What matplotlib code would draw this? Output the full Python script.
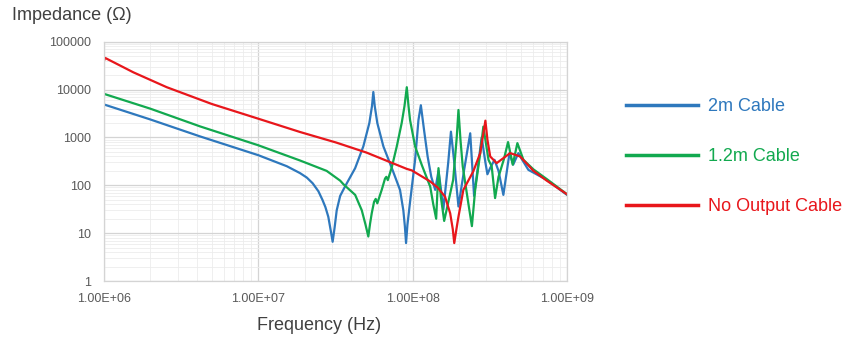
import matplotlib
matplotlib.use("Agg")
import matplotlib.pyplot as plt
from matplotlib.ticker import LogLocator, FixedLocator, NullFormatter

# valores (Hz, ohm)
blue_f = [1.0e6, 1.99e6, 4.19e6, 1.0e7, 1.53e7, 1.86e7, 2.06e7, 2.25e7, 2.45e7, 2.6e7,
          2.72e7, 2.84e7, 2.95e7, 3.03e7, 3.12e7, 3.22e7, 3.39e7, 3.65e7, 4.24e7, 4.79e7,
          5.24e7, 5.45e7, 5.56e7, 5.68e7, 5.9e7, 6.46e7, 7.33e7, 8.28e7, 8.7e7, 8.9e7,
          9.06e7, 9.25e7, 9.62e7, 1.037e8, 1.09e8, 1.13e8, 1.186e8, 1.25e8, 1.32e8, 1.4e8,
          1.47e8, 1.52e8, 1.58e8, 1.7e8, 1.77e8, 1.86e8, 1.98e8, 2.15e8, 2.36e8, 2.5e8,
          2.65e8, 2.8e8, 2.96e8, 3.05e8, 3.18e8, 3.39e8, 3.6e8, 3.87e8, 4.24e8, 4.48e8,
          4.84e8, 5.1e8, 5.62e8, 7.39e8, 1.0e9]
blue_z = [4880, 2380, 1050, 425, 250, 180, 145, 110, 75, 50,
          35, 22, 11, 6.6, 13, 30, 60, 95, 228, 650,
          2000, 4500, 8900, 4500, 2000, 650, 228, 80, 30, 14,
          6.2, 15, 45, 340, 2300, 4700, 1400, 400, 150, 80,
          200, 90, 31, 300, 1320, 300, 36, 200, 1220, 60,
          250, 1000, 300, 170, 230, 340, 200, 63, 470, 270,
          470, 350, 210, 130, 63]

green_f = [1.0e6, 1.99e6, 4.19e6, 1.0e7, 1.86e7, 2.77e7, 3.39e7, 3.56e7, 4.24e7, 4.68e7,
           4.95e7, 5.16e7, 5.3e7, 5.43e7, 5.62e7, 5.76e7, 5.9e7, 6.3e7, 6.62e7, 6.75e7,
           6.9e7, 7.33e7, 7.89e7, 8.49e7, 8.85e7, 9.16e7, 9.4e7, 9.62e7, 1.037e8, 1.146e8,
           1.3e8, 1.36e8, 1.42e8, 1.47e8, 1.52e8, 1.6e8, 1.83e8, 1.93e8, 1.98e8, 2.04e8,
           2.11e8, 2.3e8, 2.42e8, 2.54e8, 2.74e8, 2.87e8, 3.1e8, 3.25e8, 3.42e8, 3.6e8,
           3.9e8, 4.15e8, 4.45e8, 4.77e8, 5.22e8, 6.06e8, 7.39e8, 1.0e9]
green_z = [8130, 4000, 1700, 685, 330, 200, 125, 105, 63, 30,
           15, 8.5, 16, 26, 45, 52, 42, 80, 138, 150,
           128, 240, 650, 2000, 4500, 11200, 4500, 2300, 650, 265,
           93, 40, 20, 228, 60, 18, 130, 1000, 3750, 900,
           250, 40, 14, 80, 470, 1680, 340, 250, 54, 150,
           350, 800, 270, 760, 340, 215, 135, 65]

red_f = [1.0e6, 1.015e6, 1.55e6, 2.55e6, 4.99e6, 1.0e7, 1.86e7, 3.2e7, 5.04e7, 6.79e7,
         9.16e7, 9.86e7, 1.3e8, 1.45e8, 1.62e8, 1.75e8, 1.82e8, 1.86e8, 1.92e8, 1.98e8,
         2.13e8, 2.47e8, 2.74e8, 2.87e8, 2.96e8, 3.05e8, 3.18e8, 3.5e8, 4.28e8, 4.97e8,
         6.06e8, 7.39e8, 1.0e9]
red_z = [40000, 46000, 22900, 11200, 5000, 2460, 1300, 780, 480, 325,
         220, 205, 120, 90, 58, 26, 12, 6.2, 12, 22,
         80, 195, 470, 1200, 2240, 900, 400, 290, 470, 400,
         200, 125, 65]

labels = ['2m Cable', '1.2m Cable', 'No Output Cable']
colors = ['#2e78bd', '#12a94f', '#e8161b']

x_ticks = [1e6, 1e7, 1e8, 1e9]
x_ticklabels = ['1.00E+06', '1.00E+07', '1.00E+08', '1.00E+09']
y_ticks = [1, 10, 100, 1000, 10000, 100000]
y_ticklabels = ['1', '10', '100', '1000', '10000', '100000']

plt.rcParams['font.family'] = ['Liberation Sans', 'DejaVu Sans']

fig = plt.figure(figsize=(8.59, 3.43), dpi=100)
ax = fig.add_axes([104/859, 1-281/343, 463/859, (281-41.7)/343])

ax.plot(blue_f, blue_z, color=colors[0], linewidth=1.6, label=labels[0])
ax.plot(green_f, green_z, color=colors[1], linewidth=1.6, label=labels[1])
ax.plot(red_f, red_z, color=colors[2], linewidth=1.6, label=labels[2])

ax.set_xscale('log')
ax.set_yscale('log')
ax.set_xlim(1e6, 1e9)
ax.set_ylim(1, 100000)

ax.xaxis.set_major_locator(FixedLocator(x_ticks))
ax.set_xticklabels(x_ticklabels)
ax.yaxis.set_major_locator(FixedLocator(y_ticks))
ax.set_yticklabels(y_ticklabels)
ax.xaxis.set_minor_locator(LogLocator(base=10, subs=range(2, 10)))
ax.yaxis.set_minor_locator(LogLocator(base=10, subs=range(2, 10)))
ax.xaxis.set_minor_formatter(NullFormatter())
ax.yaxis.set_minor_formatter(NullFormatter())

ax.tick_params(which='both', length=0)
ax.tick_params(axis='both', labelsize=9, labelcolor='#595959')
ax.tick_params(axis='x', pad=9)
ax.tick_params(axis='y', pad=9.5)

ax.grid(True, which='major', color='#d4d4d4', linewidth=0.9)
ax.grid(True, which='minor', color='#ececec', linewidth=0.6)
ax.set_axisbelow(True)
for s in ax.spines.values():
    s.set_color('#d4d4d4')
    s.set_linewidth(0.9)

fig.text(12/859, 1-15/343, 'Impedance (Ω)', fontsize=13, color='#404040',
         ha='left', va='center')
fig.text(319/859, 1-326/343, 'Frequency (Hz)', fontsize=13, color='#404040',
         ha='center', va='center')

leg = ax.legend(loc='upper left', bbox_to_anchor=(617/859, 1-89/343),
                bbox_transform=fig.transFigure, frameon=False, fontsize=13,
                handlelength=4.0, handletextpad=0.55, labelspacing=1.83,
                borderpad=0, labelcolor='linecolor')
for line in leg.get_lines():
    line.set_linewidth(2.5)

fig.savefig('out.png', dpi=100)
